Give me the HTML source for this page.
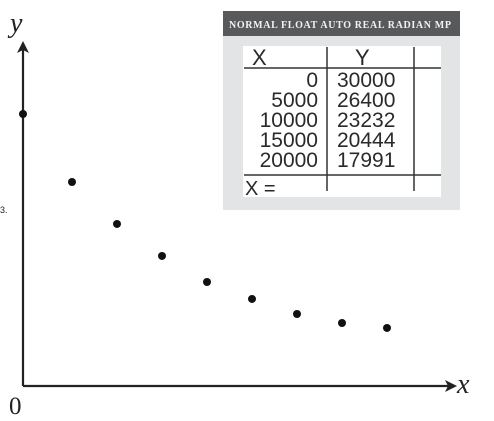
<!DOCTYPE html>
<html><head><meta charset="utf-8"><style>
body{margin:0;background:#fff;width:494px;height:421px;overflow:hidden;position:relative;font-family:"Liberation Sans",sans-serif}
</style></head><body>
<svg width="494" height="421" viewBox="0 0 494 421" style="position:absolute;left:0;top:0">
<defs><marker id="ah" markerWidth="12" markerHeight="12" refX="9" refY="6" orient="auto" markerUnits="userSpaceOnUse"><path d="M0,0 L12,6 L0,12 L3,6 Z" fill="#222"/></marker></defs>
<line x1="23" y1="386" x2="23" y2="44" stroke="#222" stroke-width="2.2" marker-end="url(#ah)"/>
<line x1="23" y1="386" x2="454" y2="386" stroke="#222" stroke-width="2.2" marker-end="url(#ah)"/>
<text x="10" y="32" font-family="Liberation Serif,serif" font-style="italic" font-size="28" fill="#222">y</text>
<text x="457" y="393" font-family="Liberation Serif,serif" font-style="italic" font-size="28" fill="#222">x</text>
<text x="9" y="414" font-family="Liberation Serif,serif" font-size="25" fill="#222">0</text>
<text x="0" y="213" font-size="9" fill="#222">3.</text>
<g id="pts"></g>
<rect x="223" y="11" width="237" height="199" fill="#e3e4e6"/>
<rect x="223" y="11" width="237" height="25" fill="#58595b"/>
<text x="229" y="28" textLength="222" lengthAdjust="spacing" font-family="Liberation Serif,serif" font-weight="bold" font-size="10" fill="#f2f2f2">NORMAL  FLOAT  AUTO  REAL  RADIAN  MP</text>
<rect x="243" y="46" width="198" height="151" fill="#fff"/>
<line x1="244" y1="68" x2="441" y2="68" stroke="#333" stroke-width="1.5"/>
<line x1="244" y1="175" x2="441" y2="175" stroke="#333" stroke-width="1.5"/>
<line x1="327" y1="47" x2="327" y2="191" stroke="#333" stroke-width="1.5"/>
<line x1="414" y1="47" x2="414" y2="191" stroke="#333" stroke-width="1.5"/>
<g font-family="Liberation Sans,sans-serif" font-size="22" fill="#2a2a2a">
<text x="252" y="65">X</text>
<text x="355" y="65">Y</text>
<text x="245" y="195" font-size="20">X =</text>
</g>
<g id="rows" font-family="Liberation Sans,sans-serif" font-size="21" fill="#2a2a2a"></g>
</svg>
<script>
const xVals=[0,5000,10000,15000,20000,25000,30000,35000,40000];
const yVals=[30000,22500,17870,14340,11470,9600,7940,6950,6400];
const tableX=["0","5000","10000","15000","20000"];
const tableY=["30000","26400","23232","20444","17991"];
const sx=v=>v===0?23:27+v*45/5000;
const sy=v=>386-v*272/30000;
const NS="http://www.w3.org/2000/svg";
const g=document.getElementById('pts');
xVals.forEach((x,i)=>{const c=document.createElementNS(NS,'circle');
c.setAttribute('cx',sx(x));c.setAttribute('cy',sy(yVals[i]));c.setAttribute('r',4);c.setAttribute('fill','#111');


g.appendChild(c);});
const r=document.getElementById('rows');
tableX.forEach((t,i)=>{const y=87+i*20;
const a=document.createElementNS(NS,'text');a.setAttribute('x',318);a.setAttribute('y',y);a.setAttribute('text-anchor','end');a.textContent=t;


r.appendChild(a);
const b=document.createElementNS(NS,'text');b.setAttribute('x',337);b.setAttribute('y',y);b.textContent=tableY[i];


r.appendChild(b);});
</script>
</body></html>
